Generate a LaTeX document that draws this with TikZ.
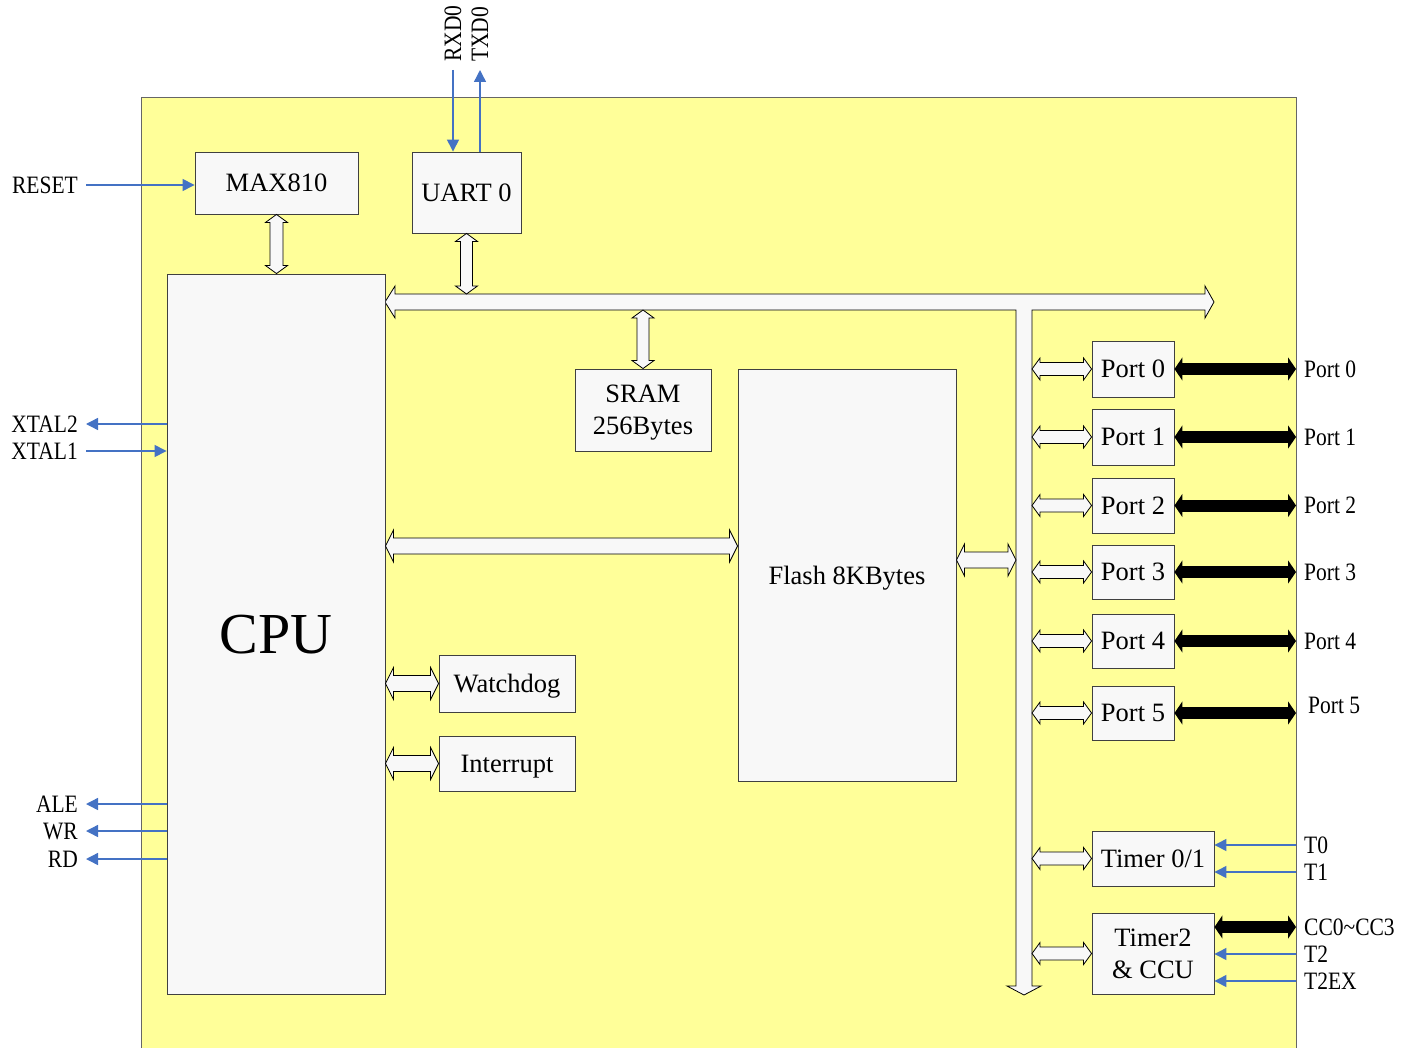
\documentclass[tikz,border=0pt]{standalone}
\usepackage{fontspec}
\setmainfont{Liberation Serif}
\newfontfamily\lblfamily[FakeStretch=0.86]{Liberation Serif}
\usetikzlibrary{arrows.meta,calc}
\definecolor{cBg}{HTML}{FFFF99}
\definecolor{cBox}{HTML}{F8F8F8}
\definecolor{cSig}{HTML}{4472C4}
\newcommand{\blkfont}{\fontsize{26.5}{32}\selectfont}
\newcommand{\sigfont}{\lblfamily\fontsize{25}{28}\selectfont}
% hollow two-headed arrows: ends, half shaft, half head
\newcommand{\hdbl}[4]{%
  \path[hol] let \p1=(#1), \p2=(#2) in
    (\x1,\y1) -- (\x1+8pt,\y1+#4pt) -- (\x1+8pt,\y1+#3pt) -- (\x2-8pt,\y1+#3pt)
    -- (\x2-8pt,\y1+#4pt) -- (\x2,\y1) -- (\x2-8pt,\y1-#4pt) -- (\x2-8pt,\y1-#3pt)
    -- (\x1+8pt,\y1-#3pt) -- (\x1+8pt,\y1-#4pt) -- cycle;}
\newcommand{\vdbl}[4]{%
  \path[hol] let \p1=(#1), \p2=(#2) in
    (\x1,\y1) -- (\x1+#4pt,\y1-8pt) -- (\x1+#3pt,\y1-8pt) -- (\x1+#3pt,\y2+8pt)
    -- (\x1+#4pt,\y2+8pt) -- (\x1,\y2) -- (\x1-#4pt,\y2+8pt) -- (\x1-#3pt,\y2+8pt)
    -- (\x1-#3pt,\y1-8pt) -- (\x1-#4pt,\y1-8pt) -- cycle;}
\tikzset{
  blk/.style={draw=black!75,fill=cBox,line width=.9pt,inner sep=0pt,font=\blkfont,align=center,text depth=0pt},
  lbl/.style={font=\sigfont,inner xsep=8pt,inner ysep=1pt},
  sig/.style={cSig,line width=1.4pt,-{Triangle[length=12pt,width=12pt]}},
  hol/.style={draw=black,fill=cBox,line width=.8pt},
  fat/.style={line width=12pt,{Triangle[length=8pt,width=23pt]}-{Triangle[length=8pt,width=23pt]}},
}

\begin{document}
\begin{tikzpicture}[x=1pt,y=-1pt]
  \useasboundingbox (0,0) rectangle (1412,1048);
  % chip area
  \fill[cBg] (141,98) rectangle (1296,1052);
  \draw[black!60,line width=1pt] (141,1052) -- (141,98) -- (1296,98) -- (1296,1052);
  \coordinate (bust) at (0,294); \coordinate (busb) at (0,310);
  \coordinate (vbl) at (1016,0); \coordinate (vbr) at (1032,0);
  \coordinate (rim) at (1296,0);
  \coordinate (cf) at (0,546); \coordinate (fv) at (0,560);
  % internal bus
  \draw[hol] (385,302) -- (395,286) -- (395,294) -- (1205,294) -- (1205,286) -- (1214,302)
    -- (1205,318) -- (1205,310) -- (1032,310) -- (1032,986) -- (1041,986) -- (1024,995)
    -- (1007,986) -- (1016,986) -- (1016,310) -- (395,310) -- (395,318) -- cycle;
  % blocks
  \node[blk,minimum width=163pt,minimum height=62pt] (max) at (276.5,183) {MAX810};
  \node[blk,minimum width=109pt,minimum height=81pt] (uart) at (466.5,192.5) {UART 0};
  \node[blk,minimum width=218pt,minimum height=720pt,font=\fontsize{58}{66}\selectfont] (cpu) at (276,634) {CPU};
  \node[blk,minimum width=136pt,minimum height=82pt] (sram) at (643,410) {SRAM\\256Bytes};
  \node[blk,minimum width=218pt,minimum height=412pt] (flash) at (847,575) {Flash 8KBytes};
  \node[blk,minimum width=136pt,minimum height=57pt] (wdg) at (507,683.5) {Watchdog};
  \node[blk,minimum width=136pt,minimum height=55pt] (irq) at (507,763.5) {Interrupt};
  \node[blk,minimum width=82pt,minimum height=56pt] (p0) at (1133,369) {Port 0};
  \node[blk,minimum width=82pt,minimum height=56pt] (p1) at (1133,437) {Port 1};
  \node[blk,minimum width=82pt,minimum height=55pt] (p2) at (1133,505.5) {Port 2};
  \node[blk,minimum width=82pt,minimum height=54pt] (p3) at (1133,572) {Port 3};
  \node[blk,minimum width=82pt,minimum height=54pt] (p4) at (1133,641) {Port 4};
  \node[blk,minimum width=82pt,minimum height=54pt] (p5) at (1133,713) {Port 5};
  \node[blk,minimum width=122pt,minimum height=55pt] (tm01) at (1153,858.5) {Timer 0/1};
  \node[blk,minimum width=122pt,minimum height=81pt] (tm2) at (1153,953.5) {Timer2\\\& CCU};
  % bus links
  \vdbl{max.south}{max.south |- cpu.north}{6.5}{11}
  \vdbl{uart.south}{uart.south |- bust}{6}{11}
  \vdbl{sram.north |- busb}{sram.north}{6}{11}
  \hdbl{cpu.east |- cf}{flash.west |- cf}{8}{16}
  \hdbl{flash.east |- fv}{vbl |- fv}{8}{16}
  \hdbl{cpu.east |- wdg.west}{wdg.west}{8}{16}
  \hdbl{cpu.east |- irq.west}{irq.west}{8}{16}
  \hdbl{vbr |- p0.west}{p0.west}{6.5}{11}
  \hdbl{vbr |- p1.west}{p1.west}{6.5}{11}
  \hdbl{vbr |- p2.west}{p2.west}{6.5}{11}
  \hdbl{vbr |- p3.west}{p3.west}{6.5}{11}
  \hdbl{vbr |- p4.west}{p4.west}{6.5}{11}
  \hdbl{vbr |- p5.west}{p5.west}{6.5}{11}
  \hdbl{vbr |- tm01.west}{tm01.west}{6.5}{11}
  \hdbl{vbr |- tm2.west}{tm2.west}{6.5}{11}
  % left signals
  \node[lbl,anchor=east] (lrst) at (86,185) {RESET};
  \node[lbl,anchor=east] (lx2) at (86,424) {XTAL2};
  \node[lbl,anchor=east] (lx1) at (86,451) {XTAL1};
  \node[lbl,anchor=east] (lale) at (86,804) {ALE};
  \node[lbl,anchor=east] (lwr) at (86,831) {WR};
  \node[lbl,anchor=east] (lrd) at (86,859) {RD};
  \draw[sig] (lrst.east) -- (lrst.east -| max.west);
  \draw[sig] (lx2.east -| cpu.west) -- (lx2.east);
  \draw[sig] (lx1.east) -- (lx1.east -| cpu.west);
  \draw[sig] (lale.east -| cpu.west) -- (lale.east);
  \draw[sig] (lwr.east -| cpu.west) -- (lwr.east);
  \draw[sig] (lrd.east -| cpu.west) -- (lrd.east);
  % uart pins
  \node[lbl,rotate=90,anchor=west] (lrx) at (453,70) {RXD0};
  \node[lbl,rotate=90,anchor=west] (ltx) at (480,70) {TXD0};
  \draw[sig] (lrx.west) -- (lrx.west |- uart.north);
  \draw[sig] (ltx.west |- uart.north) -- (ltx.west);
  % right pins
  \node[lbl,anchor=west] (lp0) at (1296,369) {Port 0};
  \node[lbl,anchor=west] (lp1) at (1296,437) {Port 1};
  \node[lbl,anchor=west] (lp2) at (1296,505) {Port 2};
  \node[lbl,anchor=west] (lp3) at (1296,572) {Port 3};
  \node[lbl,anchor=west] (lp4) at (1296,641) {Port 4};
  \node[lbl,anchor=west] (lp5) at (1300,705) {Port 5};
  \draw[fat] (p0.east) -- (p0.east -| rim);
  \draw[fat] (p1.east) -- (p1.east -| rim);
  \draw[fat] (p2.east) -- (p2.east -| rim);
  \draw[fat] (p3.east) -- (p3.east -| rim);
  \draw[fat] (p4.east) -- (p4.east -| rim);
  \draw[fat] (p5.east) -- (p5.east -| rim);
  \node[lbl,anchor=west] (lt0) at (1296,845) {T0};
  \node[lbl,anchor=west] (lt1) at (1296,872) {T1};
  \node[lbl,anchor=west] (lcc) at (1296,927) {CC0\textasciitilde CC3};
  \node[lbl,anchor=west] (lt2) at (1296,954) {T2};
  \node[lbl,anchor=west] (lt2x) at (1296,981) {T2EX};
  \draw[sig] (lt0.west) -- (lt0.west -| tm01.east);
  \draw[sig] (lt1.west) -- (lt1.west -| tm01.east);
  \draw[fat] (tm2.east |- lcc.west) -- (lcc.west);
  \draw[sig] (lt2.west) -- (lt2.west -| tm2.east);
  \draw[sig] (lt2x.west) -- (lt2x.west -| tm2.east);
\end{tikzpicture}
\end{document}
